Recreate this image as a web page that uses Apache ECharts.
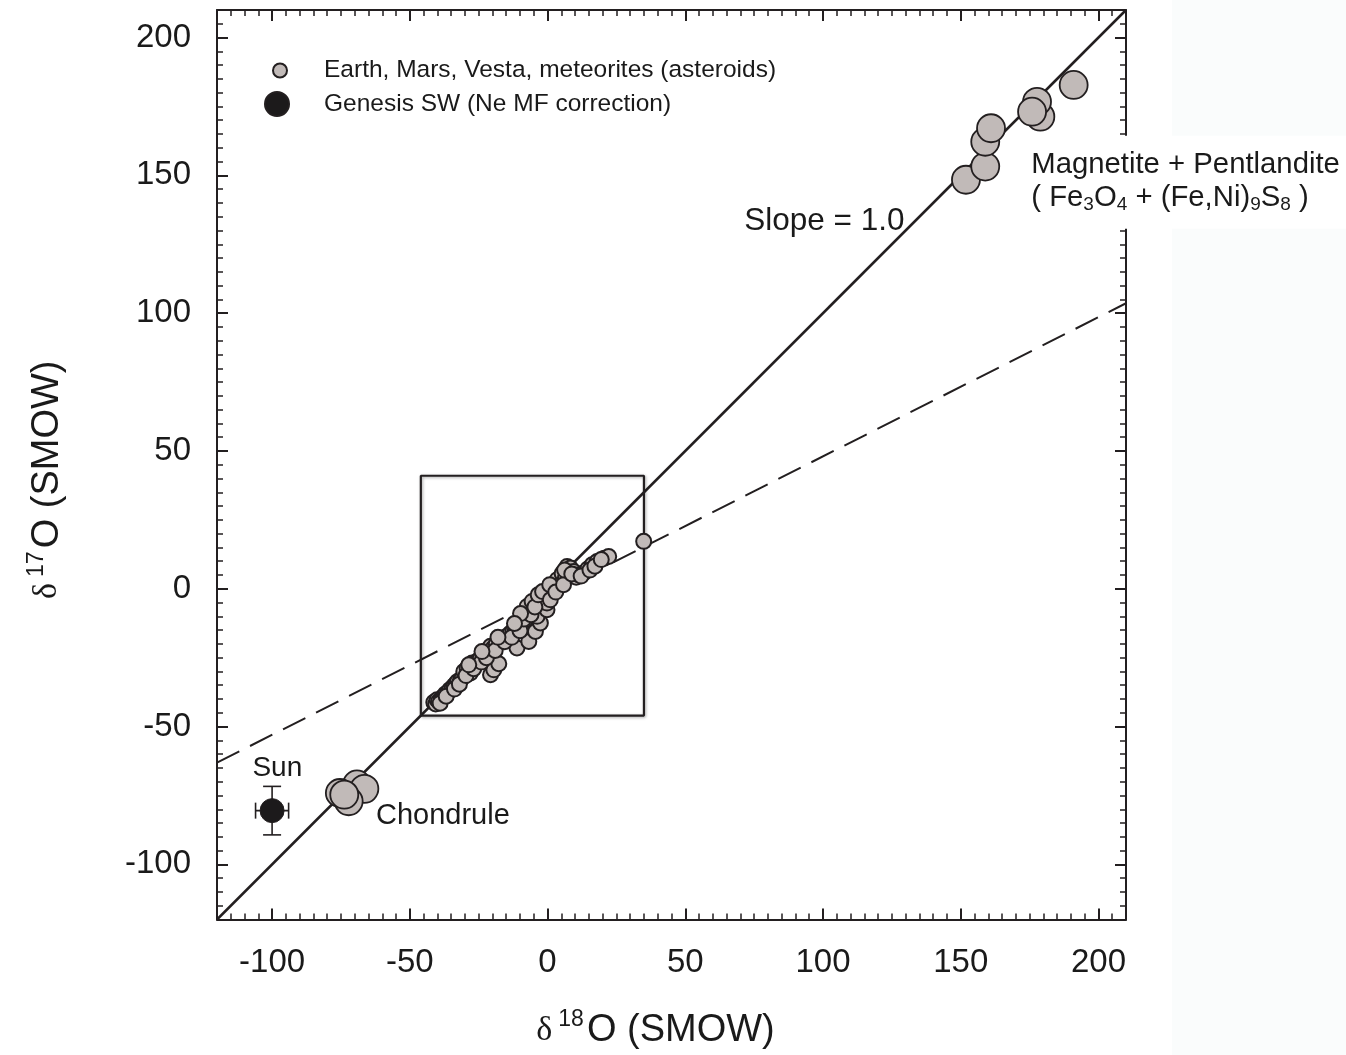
<!DOCTYPE html>
<html>
<head>
<meta charset="utf-8">
<title>Oxygen three-isotope plot</title>
<script src="https://cdn.jsdelivr.net/npm/echarts@6/dist/echarts.min.js"></script>
<style>
  html, body { margin: 0; padding: 0; background: #ffffff; }
  #chart { width: 1346px; height: 1055px; }
</style>
</head>
<body>
<div id="chart"></div>
<script>
// Axis extent (per mil, SMOW) and labelled tick values
const axisMin = -120;
const axisMax = 210;
const majorTicks = [-100, -50, 0, 50, 100, 150, 200];

// [δ18O, δ17O] for Earth, Mars, Vesta and meteorite samples
const meteoriteOxygen = [
  [-41.3, -41.2], [-40.6, -41.8], [-40.1, -40.3], [-39.5, -40.8], [-38.6, -40.0],
  [-37.9, -39.2], [-37.1, -38.2], [-36.2, -37.6], [-35.5, -36.6], [-34.6, -36.0],
  [-34.0, -35.2], [-33.2, -34.3], [-32.6, -33.6], [-31.6, -33.0], [-31.0, -32.4],
  [-30.4, -30.0], [-29.2, -28.8], [-28.0, -30.6], [-27.4, -26.9], [-26.5, -27.8],
  [-25.6, -26.3], [-24.5, -25.4], [-23.4, -24.5], [-22.6, -23.6], [-21.7, -22.7],
  [-20.7, -20.9], [-19.8, -21.6], [-18.6, -19.9], [-17.1, -18.5], [-16.0, -17.9],
  [-14.9, -17.3], [-13.5, -16.1], [-12.6, -15.3], [-11.7, -14.9], [-10.4, -13.8],
  [-9.2, -13.0], [-20.7, -31.2], [-19.5, -29.4], [-17.7, -27.2], [-11.1, -21.5],
  [-6.8, -19.1], [-4.4, -15.5], [-2.6, -12.4], [-8.0, -11.2], [-7.4, -6.4],
  [-5.6, -4.6], [-5.0, -8.2], [-3.8, -10.0], [-2.6, -4.0], [-1.2, -3.2],
  [-0.2, -7.6], [-0.2, -5.2], [0.4, -2.5], [1.6, -0.9], [2.2, 0.9],
  [3.5, 3.3], [4.7, 1.5], [5.3, 5.5], [6.5, 3.9], [7.1, 8.1],
  [7.7, 5.1], [8.3, 7.5], [9.5, 6.3], [10.4, 4.2], [11.3, 5.1],
  [13.1, 5.7], [14.6, 7.2], [16.2, 8.7], [18.0, 9.9], [20.6, 11.1],
  [22.2, 11.7], [34.9, 17.2],
  [-39.0, -41.5], [-36.8, -39.0], [-33.8, -36.4], [-32.0, -34.6], [-29.6, -31.5],
  [-26.8, -29.0], [-24.0, -26.6], [-22.2, -25.0], [-19.0, -22.4], [-15.6, -19.2],
  [-13.0, -17.6], [-10.0, -15.2], [-8.6, -11.0], [-6.0, -9.4], [-9.8, -9.0],
  [-4.6, -6.6], [-3.4, -2.2], [-1.8, -1.0], [0.8, 1.5], [1.0, -4.0],
  [3.0, -1.2], [5.8, 1.5], [6.2, 6.8], [8.8, 5.4], [12.2, 4.6],
  [15.4, 6.8], [17.2, 8.2], [19.5, 10.6], [-28.6, -27.6], [-23.8, -22.8],
  [-18.0, -17.6], [-12.0, -12.6]
];

// Magnetite + pentlandite grains
const magnetitePentlandite = [
  [151.9, 148.4], [158.9, 153.2], [158.9, 162.2], [161.0, 167.1],
  [178.9, 171.3], [177.7, 176.7], [175.9, 173.1], [191.0, 182.8]
];

// Chondrule measurements
const chondrules = [
  [-69.2, -71.0], [-66.5, -72.6], [-75.4, -74.1], [-72.2, -77.1], [-73.8, -74.7]
];

// Genesis solar wind (Sun) with errors [δ18O err, δ17O err]
const genesisSun = [[-100.0, -80.5]];
const genesisSunError = [[6.0, 8.8]];

// Reference lines
const slopeOneLine = [[-120, -120], [210, 210]];
const fractionationLine = [[-120, -63.1], [210, 103.6]];

// Outline of the inset region
const insetBox = [[-46, -46], [35, -46], [35, 41], [-46, 41], [-46, -46]];

const FONT = '"Liberation Sans", Arial, Helvetica, sans-serif';
const INK = '#231f20';
const TEXT = '#1a1a1a';
const FILL = '#c1bab8';

const titleRich = {
  d: { fontFamily: '"Liberation Serif", "DejaVu Serif", serif', fontSize: 34, color: TEXT },
  s: { fontFamily: FONT, fontSize: 23, color: TEXT, padding: [0, 3, 22, 6] },
  t: { fontFamily: FONT, fontSize: 38, color: TEXT }
};

function baseAxis(position, extra) {
  return Object.assign({
    type: 'value',
    position: position,
    min: axisMin,
    max: axisMax,
    splitLine: { show: false },
    axisLine: { show: false, onZero: false },
    axisLabel: { show: false }
  }, extra);
}

function majorAxis(position, withLabels, name, nameGap, namePadding, labelMargin, labelPadding) {
  return baseAxis(position, {
    axisLine: { show: true, onZero: false, lineStyle: { color: INK, width: 2 } },
    axisTick: { show: true, inside: true, length: 11, customValues: majorTicks,
                lineStyle: { color: INK, width: 2 } },
    axisLabel: withLabels ? {
      show: true, customValues: majorTicks, margin: labelMargin,
      padding: labelPadding || 0,
      fontSize: 33, color: TEXT, fontFamily: FONT
    } : { show: false },
    name: name || '',
    nameLocation: 'middle',
    nameGap: nameGap || 0,
    nameTextStyle: { rich: titleRich, padding: namePadding || 0 }
  });
}

function minorAxis(position) {
  return baseAxis(position, {
    interval: 5,
    axisTick: { show: true, inside: true, length: 6, lineStyle: { color: INK, width: 1.5 } }
  });
}

const chart = echarts.init(document.getElementById('chart'), null, { renderer: 'canvas' });

const option = {
  backgroundColor: '#ffffff',
  animation: false,
  grid: { left: 217, top: 10, width: 909, height: 910, containLabel: false },
  graphic: [
    { type: 'rect', left: 1172, top: 0, z: -10,
      shape: { width: 174, height: 1055 }, style: { fill: '#fafcfc' } }
  ],
  legend: [
    {
      data: [{ name: 'Earth, Mars, Vesta, meteorites (asteroids)', icon: 'circle' }],
      left: 272, top: 58, padding: 0, orient: 'vertical',
      itemWidth: 14, itemHeight: 14, selectedMode: false,
      textStyle: { fontSize: 24.5, color: TEXT, fontFamily: FONT, padding: [0, 0, 0, 32] }
    },
    {
      data: [{ name: 'Genesis SW (Ne MF correction)', icon: 'circle' }],
      left: 264, top: 91, padding: 0, orient: 'vertical',
      itemWidth: 24, itemHeight: 24, selectedMode: false,
      textStyle: { fontSize: 24.5, color: TEXT, fontFamily: FONT, padding: [0, 0, 0, 30] }
    }
  ],
  xAxis: [
    majorAxis('bottom', true, '{d|δ}{s|18}{t|O (SMOW)}', 89, [0, 32, 0, 0], 27),
    minorAxis('bottom'),
    majorAxis('top', false),
    minorAxis('top')
  ],
  yAxis: [
    majorAxis('left', true, '{d|δ}{s|17}{t|O (SMOW)}', 147, [0, 30, 0, 0], 26, [5, 0, 0, 0]),
    minorAxis('left'),
    majorAxis('right', false),
    minorAxis('right')
  ],
  series: [
    {
      name: 'fractionation', type: 'line', data: fractionationLine,
      symbol: 'none', silent: true, z: 1,
      lineStyle: { color: INK, width: 2, type: [25, 12] }
    },
    {
      name: 'slope one', type: 'line', data: slopeOneLine,
      symbol: 'none', silent: true, z: 1,
      lineStyle: { color: INK, width: 2.5 }
    },
    {
      name: 'inset', type: 'line', data: insetBox,
      symbol: 'none', silent: true, z: 1,
      lineStyle: { color: INK, width: 2.2, shadowColor: 'rgba(0,0,0,0.35)',
                   shadowBlur: 3, shadowOffsetX: 1, shadowOffsetY: 1 }
    },
    {
      name: 'Earth, Mars, Vesta, meteorites (asteroids)', type: 'scatter',
      data: meteoriteOxygen, symbol: 'circle', symbolSize: 15, z: 3,
      itemStyle: { color: FILL, borderColor: INK, borderWidth: 2, opacity: 1 }
    },
    {
      name: 'magnetite', type: 'scatter', data: magnetitePentlandite,
      symbol: 'circle', symbolSize: 28, z: 3,
      itemStyle: { color: FILL, borderColor: INK, borderWidth: 1.8, opacity: 1 }
    },
    {
      name: 'chondrule', type: 'scatter', data: chondrules,
      symbol: 'circle', symbolSize: 28, z: 3,
      itemStyle: { color: FILL, borderColor: INK, borderWidth: 1.8, opacity: 1 }
    },
    {
      name: 'sun error', type: 'custom', z: 3, silent: true,
      data: genesisSun.map((p, i) => [p[0], p[1], genesisSunError[i][0], genesisSunError[i][1]]),
      renderItem: function (params, api) {
        const x = api.value(0), y = api.value(1), ex = api.value(2), ey = api.value(3);
        const l = api.coord([x - ex, y]), r = api.coord([x + ex, y]);
        const t = api.coord([x, y + ey]), b = api.coord([x, y - ey]);
        const cw = 9, ch = 8;
        const st = { stroke: INK, lineWidth: 1.6 };
        const seg = (x1, y1, x2, y2) => ({ type: 'line', shape: { x1, y1, x2, y2 }, style: st });
        return {
          type: 'group',
          children: [
            seg(l[0], l[1], r[0], r[1]),
            seg(t[0], t[1], b[0], b[1]),
            seg(t[0] - cw, t[1], t[0] + cw, t[1]),
            seg(b[0] - cw, b[1], b[0] + cw, b[1]),
            seg(l[0], l[1] - ch, l[0], l[1] + ch),
            seg(r[0], r[1] - ch, r[0], r[1] + ch)
          ]
        };
      }
    },
    {
      name: 'Genesis SW (Ne MF correction)', type: 'scatter', data: genesisSun,
      symbol: 'circle', symbolSize: 24, z: 4,
      itemStyle: { color: '#1c1a1b', borderColor: INK, borderWidth: 1, opacity: 1 }
    },
    {
      name: 'annotations', type: 'scatter', z: 5, silent: true,
      symbolSize: 1, itemStyle: { color: 'rgba(255,255,255,0)', opacity: 1 },
      data: [
        { value: [100.5, 133.5], label: { formatter: 'Slope = 1.0', fontSize: 31.5 } },
        { value: [-98.1, -65.2], label: { formatter: 'Sun', fontSize: 28 } },
        { value: [-38.0, -82.6], label: { formatter: 'Chondrule', fontSize: 29 } },
        {
          value: [172.7, 147.5],
          label: {
            align: 'left',
            formatter: '{m|Magnetite + Pentlandite}\n{m|( Fe}{b|3}{m|O}{b|4}{m| + (Fe,Ni)}{b|9}{m|S}{b|8}{m| )}',
            backgroundColor: '#ffffff',
            padding: [13, 12, 14, 8],
            rich: {
              m: { fontSize: 29.3, color: TEXT, fontFamily: FONT, lineHeight: 33 },
              b: { fontSize: 19, color: TEXT, fontFamily: FONT, padding: [14, 0, 0, 0] }
            }
          }
        }
      ],
      label: {
        show: true, position: 'inside', color: TEXT, fontFamily: FONT,
        align: 'center', verticalAlign: 'middle', opacity: 1
      }
    }
  ]
};

chart.setOption(option);
</script>
</body>
</html>
